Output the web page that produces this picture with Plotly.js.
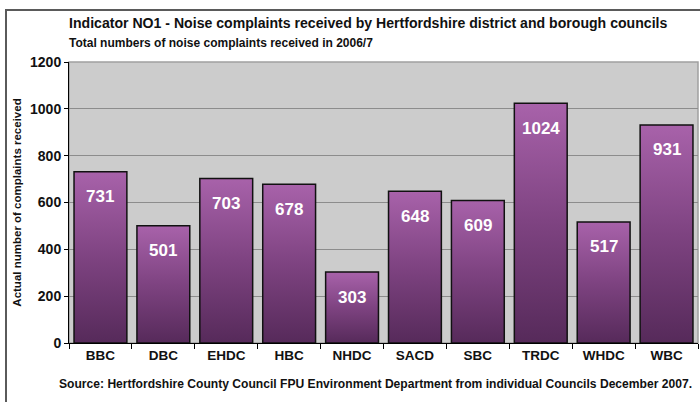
<!DOCTYPE html>
<html>
<head>
<meta charset="utf-8">
<script src="https://cdn.plot.ly/plotly-3.0.1.min.js"></script>
<style>
html,body{margin:0;padding:0;background:#fff;}
#wrap{position:relative;width:700px;height:402px;overflow:hidden;}
#chart{width:700px;height:402px;}
#frame{position:absolute;left:5px;top:9px;width:720px;height:420px;border-left:2px solid #5a5a5a;border-top:2px solid #5a5a5a;pointer-events:none;box-sizing:border-box;}
</style>
</head>
<body>
<div id="wrap">
<div id="chart"></div>
<div id="frame"></div>
</div>
<script>
const councils = ['BBC','DBC','EHDC','HBC','NHDC','SACD','SBC','TRDC','WHDC','WBC'];
const complaints = [731, 501, 703, 678, 303, 648, 609, 1024, 517, 931];
const yTicks = [0, 200, 400, 600, 800, 1000, 1200];

const titleText = 'Indicator NO1 - Noise complaints received by Hertfordshire district and borough councils';
const subtitleText = 'Total numbers of noise complaints received in 2006/7';
const sourceText = 'Source: Hertfordshire County Council FPU Environment Department from individual Councils December 2007.';
const yTitleText = 'Actual number of complaints received';

const FONT = '"Liberation Sans", Arial, sans-serif';

const trace = {
  type: 'bar',
  x: councils,
  y: complaints,
  marker: {color: '#7f4482', line: {color: '#111', width: 1.5}},
  hoverinfo: 'none'
};

const labelAnnotations = councils.map((c, i) => ({
  x: c, y: complaints[i], xref: 'x', yref: 'y',
  text: String(complaints[i]), showarrow: false,
  yanchor: 'middle', yshift: -25,
  font: {family: FONT, size: 17, color: '#ffffff', weight: 'bold'}
}));

const textAnnotations = [
  {xref: 'paper', yref: 'paper', x: -0.003, y: 1.0, xanchor: 'left', yanchor: 'bottom', yshift: 29,
   text: '<b>' + titleText + '</b>', showarrow: false,
   font: {family: FONT, size: 14.1, color: '#111'}},
  {xref: 'paper', yref: 'paper', x: -0.003, y: 1.0, xanchor: 'left', yanchor: 'bottom', yshift: 10,
   text: '<b>' + subtitleText + '</b>', showarrow: false,
   font: {family: FONT, size: 12, color: '#111'}},
  {xref: 'paper', yref: 'paper', x: 0.5, y: 0, xanchor: 'center', yanchor: 'top', yshift: -32, xshift: -8,
   text: '<b>' + sourceText + '</b>', showarrow: false,
   font: {family: FONT, size: 12.1, color: '#111'}}
];

const layout = {
  width: 700, height: 402,
  margin: {l: 69, r: 2, t: 62, b: 59},
  paper_bgcolor: '#ffffff',
  plot_bgcolor: '#cccccc',
  bargap: 0.16,
  showlegend: false,
  font: {family: FONT, color: '#111'},
  xaxis: {
    type: 'category',
    showline: true, linecolor: '#000', linewidth: 1,
    ticks: 'outside', tickson: 'boundaries', ticklen: 5, tickcolor: '#000',
    tickfont: {family: FONT, size: 13.5, color: '#111', weight: 'bold'},
    showgrid: false, zeroline: false, fixedrange: true
  },
  yaxis: {
    range: [0, 1200],
    tickvals: yTicks,
    ticktext: yTicks.map(String),
    showline: true, linecolor: '#000', linewidth: 1,
    ticks: 'outside', ticklen: 4, tickcolor: '#000',
    tickfont: {family: FONT, size: 14, color: '#111', weight: 'bold'},
    showgrid: true, gridcolor: '#8c8c8c', gridwidth: 1,
    zeroline: false, fixedrange: true,
    title: {text: '<b>' + yTitleText + '</b>', font: {family: FONT, size: 11.5, color: '#111'}, standoff: 6}
  },
  shapes: [
    {type: 'rect', xref: 'paper', yref: 'paper', x0: 0, x1: 1, y0: 0, y1: 1,
     line: {color: '#a0a0a0', width: 1.5}, layer: 'below'}
  ],
  annotations: labelAnnotations.concat(textAnnotations)
};

Plotly.newPlot('chart', [trace], layout, {displayModeBar: false, staticPlot: true}).then(gd => {
  const svg = gd.querySelector('.main-svg');
  let defs = svg.querySelector('defs');
  if (!defs) { defs = document.createElementNS('http://www.w3.org/2000/svg', 'defs'); svg.insertBefore(defs, svg.firstChild); }
  const grad = document.createElementNS('http://www.w3.org/2000/svg', 'linearGradient');
  grad.setAttribute('id', 'barGrad');
  grad.setAttribute('x1', '0'); grad.setAttribute('y1', '0');
  grad.setAttribute('x2', '0'); grad.setAttribute('y2', '1');
  [['0%', '#a862aa'], ['50%', '#7e4381'], ['100%', '#562a5a']].forEach(([o, c]) => {
    const s = document.createElementNS('http://www.w3.org/2000/svg', 'stop');
    s.setAttribute('offset', o); s.setAttribute('stop-color', c);
    grad.appendChild(s);
  });
  defs.appendChild(grad);
  gd.querySelectorAll('.barlayer .point path').forEach(p => { p.style.fill = 'url(#barGrad)'; });
});
</script>
</body>
</html>
